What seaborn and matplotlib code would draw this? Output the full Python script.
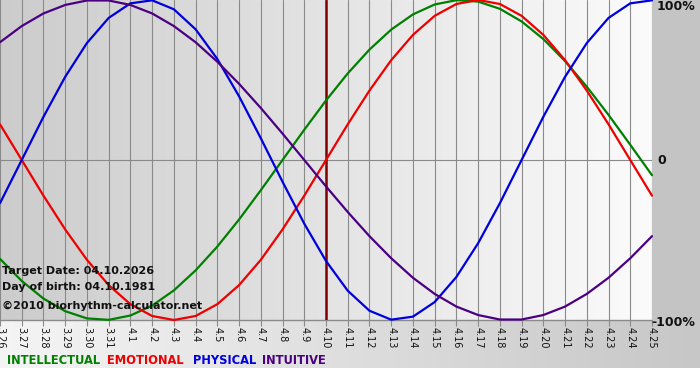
import numpy as np
import pandas as pd
import matplotlib
matplotlib.use("Agg")
import matplotlib.pyplot as plt
import seaborn as sns

# Days shown on the x axis (target date 4.10 in the middle)
days = ["3.26", "3.27", "3.28", "3.29", "3.30", "3.31",
        "4.1", "4.2", "4.3", "4.4", "4.5", "4.6", "4.7", "4.8", "4.9", "4.10",
        "4.11", "4.12", "4.13", "4.14", "4.15", "4.16", "4.17", "4.18", "4.19",
        "4.20", "4.21", "4.22", "4.23", "4.24", "4.25"]
target_day = "4.10"

# Cycle values (-1 .. 1)
intellectual = [-0.618, -0.756, -0.866, -0.945, -0.990, -0.999, -0.972, -0.910, -0.815, -0.690,
                -0.541, -0.372, -0.189, 0.0, 0.189, 0.372, 0.541, 0.690, 0.815, 0.910,
                0.972, 0.999, 0.990, 0.945, 0.866, 0.756, 0.618, 0.458, 0.282, 0.095, -0.095]
emotional = [0.223, 0.0, -0.223, -0.434, -0.624, -0.782, -0.901, -0.975, -1.0, -0.975,
             -0.901, -0.782, -0.624, -0.434, -0.223, 0.0, 0.223, 0.434, 0.624, 0.782,
             0.901, 0.975, 1.0, 0.975, 0.901, 0.782, 0.624, 0.434, 0.223, 0.0, -0.223]
physical = [-0.270, 0.0, 0.270, 0.520, 0.731, 0.888, 0.979, 0.998, 0.942, 0.817,
            0.631, 0.398, 0.136, -0.136, -0.398, -0.631, -0.817, -0.942, -0.998, -0.979,
            -0.888, -0.731, -0.520, -0.270, 0.0, 0.270, 0.520, 0.731, 0.888, 0.979, 0.998]
intuitive = [0.736, 0.837, 0.916, 0.969, 0.997, 0.997, 0.969, 0.916, 0.837, 0.736,
             0.614, 0.476, 0.325, 0.165, 0.0, -0.165, -0.325, -0.476, -0.614, -0.736,
             -0.837, -0.916, -0.969, -0.997, -0.997, -0.969, -0.916, -0.837, -0.736, -0.614, -0.476]

series_names = ["INTELLECTUAL", "EMOTIONAL", "PHYSICAL", "INTUITIVE"]
colors = ["#008000", "#ee0000", "#0000dd", "#4b0082"]
legend_x = [7, 107, 193, 262]

df = pd.DataFrame({
    "day": list(range(len(days))) * 4,
    "value": intellectual + emotional + physical + intuitive,
    "cycle": np.repeat(series_names, len(days)),
})

sns.set_theme(style="white")
plt.rcParams["font.family"] = ["DejaVu Sans"]

W, H = 700, 380
PW, PH = 652, 320
fig = plt.figure(figsize=(W / 100, H / 100), dpi=100)
fig.patch.set_facecolor("white")

# --- background in pixel coords ---
bg = fig.add_axes([0, 0, 1, 1], zorder=0)

def hgrad(c0, c1, n=256):
    g = np.linspace(c0, c1, n)
    return np.dstack([g, g, g]).reshape(1, n, 3)

bg.imshow(hgrad(0.80, 0.985), extent=(0, PW, PH, 0), aspect="auto", interpolation="bilinear")
bg.imshow(np.full((1, 1, 3), 0.77), extent=(PW, W, PH, 0), aspect="auto")
bg.imshow(hgrad(0.96, 0.78), extent=(0, W, 368, PH), aspect="auto", interpolation="bilinear")
bg.set_xlim(0, W)
bg.set_ylim(H, 0)
bg.axis("off")

# --- main chart ---
ax = fig.add_axes([0, (H - PH) / H, PW / W, PH / H], zorder=1)
ax.set_facecolor("none")
for x in range(len(days)):
    ax.axvline(x, color="#8a8a8a", lw=0.8, zorder=1)
ax.axhline(0, color="#8a8a8a", lw=0.8, zorder=1)
ax.axhline(-1, color="#8a8a8a", lw=1.0, zorder=1, clip_on=False)
ax.axvline(days.index(target_day), color="#800000", lw=1.8, zorder=2)

sns.lineplot(data=df, x="day", y="value", hue="cycle", hue_order=series_names,
             palette=colors, lw=1.6, legend=False, ax=ax, zorder=3, clip_on=False,
             solid_joinstyle="round", antialiased=True)

ax.set_xlim(0, len(days) - 1)
ax.set_ylim(-1, 1)
ax.set_xticks(range(len(days)))
ax.set_xticklabels(days, rotation=-90, fontsize=7, color="#111111")
ax.tick_params(axis="x", length=4, width=0.8, color="#8a8a8a", pad=1, bottom=True)
ax.set_yticks([])
ax.set_xlabel("")
ax.set_ylabel("")
for s in ax.spines.values():
    s.set_visible(False)

# overlay for texts
info_ax = fig.add_axes([0, 0, 1, 1], zorder=4)
info_ax.set_xlim(0, W)
info_ax.set_ylim(H, 0)
info_ax.axis("off")

# right-hand scale labels
info_ax.text(657, 7, "100%", fontsize=9, fontweight="bold", va="center", ha="left", color="#111111")
info_ax.text(657, 161, "0", fontsize=9, fontweight="bold", va="center", ha="left", color="#111111")
info_ax.text(651, 322, "-100%", fontsize=9, fontweight="bold", va="center", ha="left", color="#111111")

# info text
info_ax.text(2, 271, "Target Date: 04.10.2026", fontsize=8, fontweight="bold", va="center", color="#111111")
info_ax.text(2, 287, "Day of birth: 04.10.1981", fontsize=8, fontweight="bold", va="center", color="#111111")
info_ax.text(2, 306, "\u00a92010 biorhythm-calculator.net", fontsize=8, fontweight="bold", va="center", color="#111111")

# legend as coloured words
for name, col, lx in zip(series_names, colors, legend_x):
    info_ax.text(lx, 361, name, fontsize=8.3, fontweight="bold", va="center", color=col)

fig.savefig("out.png", dpi=100)
